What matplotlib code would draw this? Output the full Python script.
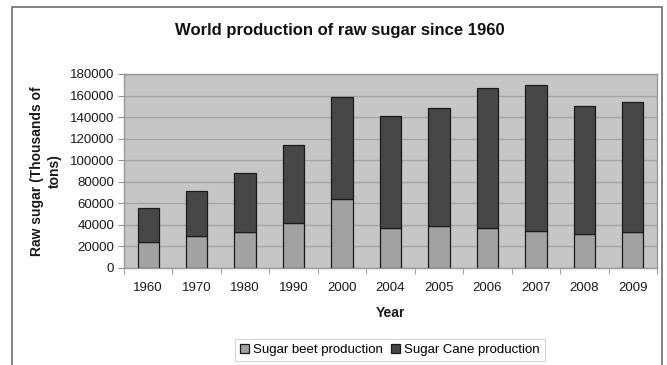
import matplotlib
matplotlib.use("Agg")
import matplotlib.pyplot as plt
from matplotlib.patches import Rectangle
from matplotlib.ticker import FixedLocator
import numpy as np

plt.rcParams['font.family'] = ['Liberation Sans', 'DejaVu Sans']

years = ["1960", "1970", "1980", "1990", "2000", "2004", "2005", "2006", "2007", "2008", "2009"]
total_sugar = [56000, 71500, 88600, 114300, 158300, 141000, 148000, 167000, 169500, 150200, 154300]
beet_sugar = [24000, 29700, 33100, 41500, 63800, 37500, 38700, 36900, 34400, 31900, 33800]
cane_sugar = [t - b for t, b in zip(total_sugar, beet_sugar)]
y_ticks = [0, 20000, 40000, 60000, 80000, 100000, 120000, 140000, 160000, 180000]

W, H = 667, 365
fig = plt.figure(figsize=(W / 100, H / 100), dpi=100)
fig.patch.set_facecolor("white")

# outer chart frame
fig.patches.append(Rectangle((12 / W, -0.01), 650 / W, 1 - 7 / H + 0.01,
                             transform=fig.transFigure, fill=False,
                             edgecolor="#6e6e6e", linewidth=1.2))

left, right, top, bottom = 124, 657, 74, 268
ax = fig.add_axes([left / W, 1 - bottom / H, (right - left) / W, (bottom - top) / H])
ax.set_facecolor("#c6c6c6")

x = np.arange(len(years))
width = 0.44
ax.bar(x, beet_sugar, width, color="#a2a2a2", edgecolor="#1a1a1a", linewidth=0.9,
       label="Sugar beet production", zorder=3)
ax.bar(x, cane_sugar, width, bottom=beet_sugar, color="#474747", edgecolor="#1a1a1a",
       linewidth=0.9, label="Sugar Cane production", zorder=3)

ax.set_xlim(-0.5, len(years) - 0.5)
ax.set_ylim(0, 180000)
ax.set_yticks(y_ticks)
ax.set_yticklabels([str(v) for v in y_ticks], fontsize=9.5, color="#1a1a1a")
ax.set_xticks(x)
ax.set_xticklabels(years, fontsize=9.5, color="#1a1a1a")
ax.xaxis.set_minor_locator(FixedLocator(np.arange(-0.5, len(years), 1.0)))
ax.tick_params(axis="x", which="major", length=0, pad=10)
ax.tick_params(axis="x", which="minor", length=4, color="#909090", direction="out")
ax.tick_params(axis="y", length=4, color="#909090", direction="out", pad=3)

ax.yaxis.grid(True, color="#a4a4a4", linewidth=1.0, zorder=0)
ax.set_axisbelow(True)
for s in ax.spines.values():
    s.set_color("#9a9a9a")
    s.set_linewidth(1.0)

ax.set_xlabel("Year", fontsize=10, fontweight="bold", color="#1a1a1a")
ax.xaxis.set_label_coords(0.5, -(306 - bottom) / (bottom - top))

fig.text(46 / W, 1 - 171 / H, "Raw sugar (Thousands of\ntons)", rotation=90,
         ha="center", va="center", multialignment="center", linespacing=1.35,
         fontsize=10, fontweight="bold", color="#1a1a1a")

fig.text(340 / W, 1 - 30 / H, "World production of raw sugar since 1960",
         ha="center", va="center", fontsize=12, fontweight="bold", color="#111111")

leg = fig.legend(loc="center", bbox_to_anchor=(390 / W, 1 - 350 / H), ncol=2,
                 fontsize=9.5, frameon=True, fancybox=False, shadow=False,
                 handlelength=0.7, handleheight=0.7, handletextpad=0.3,
                 columnspacing=0.6, borderpad=0.4, edgecolor="#c8c8c8")
leg.get_frame().set_linewidth(0.8)

fig.savefig("out.png", dpi=100)
